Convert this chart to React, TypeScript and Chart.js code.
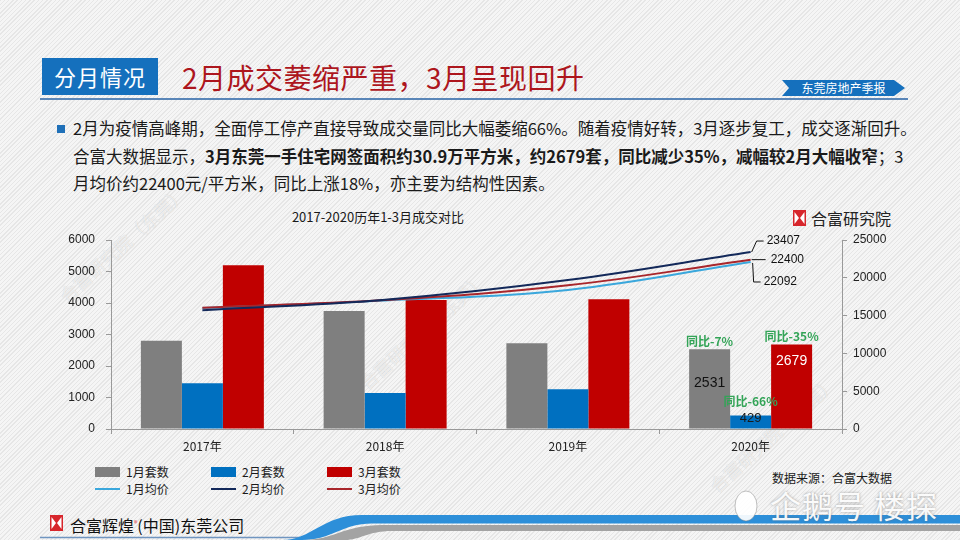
import React, { useEffect, useRef } from "react";
import { Chart, registerables } from "chart.js";

Chart.register(...registerables);

// ---------- data ----------
const categories = ["2017年", "2018年", "2019年", "2020年"];
const janUnits = [2800, 3750, 2720, 2531];
const febUnits = [1450, 1140, 1260, 429];
const marUnits = [5200, 4095, 4120, 2679];
const janPrice = [16000, 17000, 18400, 22092];
const febPrice = [15700, 17100, 19700, 23407];
const marPrice = [16050, 17050, 19000, 22400];
const leftTicks = [0, 1000, 2000, 3000, 4000, 5000, 6000];
const rightTicks = [0, 5000, 10000, 15000, 20000, 25000];
const yoyLabels = ["同比-7%", "同比-66%", "同比-35%"];
const seriesNames = ["1月套数", "2月套数", "3月套数", "1月均价", "2月均价", "3月均价"];

// ---------- styles ----------
const C_GRAY = "#7f7f7f";
const C_BLUE = "#0070c0";
const C_RED = "#c00000";
const C_L1 = "#3aa7dc";
const C_L2 = "#13295a";
const C_L3 = "#a8262b";
const C_GREEN = "#33a457";
const NUMFONT = '"Liberation Sans", "Noto Sans CJK SC", sans-serif';
const CJK = '"Noto Sans CJK SC", "Liberation Sans", sans-serif';

const labelPlugin = {
  id: "customLabels",
  afterDatasetsDraw(chart: any) {
    const ctx = chart.ctx;
    const last = categories.length - 1;
    const bars = [3, 4, 5].map((i) => chart.getDatasetMeta(i).data[last]);
    const vals = [janUnits[last], febUnits[last], marUnits[last]];
    ctx.save();
    ctx.textAlign = "center";
    ctx.textBaseline = "middle";
    const g = bars[0];
    ctx.font = "14px " + NUMFONT;
    ctx.fillStyle = "#111";
    ctx.fillText(String(vals[0]), g.x, (g.y + g.base) / 2 - 6);
    const b = bars[1];
    ctx.font = "13px " + NUMFONT;
    ctx.fillStyle = "#1a1a1a";
    ctx.fillText(String(vals[1]), b.x, (b.y + b.base) / 2 - 4);
    const r = bars[2];
    ctx.font = "14px " + NUMFONT;
    ctx.fillStyle = "#ffffff";
    ctx.fillText(String(vals[2]), r.x, r.y + 17);
    ctx.font = "bold 12px " + CJK;
    ctx.fillStyle = C_GREEN;
    ctx.fillText(yoyLabels[0], g.x, g.y - 8);
    ctx.fillText(yoyLabels[1], b.x, b.y - 14);
    ctx.fillText(yoyLabels[2], r.x, r.y - 8);

    const p2 = chart.getDatasetMeta(0).data[last];
    const p3 = chart.getDatasetMeta(1).data[last];
    const p1 = chart.getDatasetMeta(2).data[last];
    ctx.strokeStyle = "#111";
    ctx.lineWidth = 1;
    ctx.font = "12px " + NUMFONT;
    ctx.fillStyle = "#111";
    ctx.textAlign = "left";
    ctx.beginPath();
    ctx.moveTo(p2.x + 1, p2.y);
    ctx.lineTo(p2.x + 6, p2.y - 11);
    ctx.lineTo(p2.x + 13, p2.y - 11);
    ctx.stroke();
    ctx.fillText(String(febPrice[last]), p2.x + 16, p2.y - 11);
    ctx.beginPath();
    ctx.moveTo(p3.x + 1, p3.y);
    ctx.lineTo(p3.x + 15, p3.y);
    ctx.stroke();
    ctx.fillText(String(marPrice[last]), p3.x + 20, p3.y);
    ctx.beginPath();
    ctx.moveTo(p1.x + 2, p1.y + 1);
    ctx.lineTo(p1.x + 3, p1.y + 20);
    ctx.lineTo(p1.x + 10, p1.y + 20);
    ctx.stroke();
    ctx.fillText(String(janPrice[last]), p1.x + 13, p1.y + 20);
    ctx.restore();
  },
};

function Logo({ x, y, w, h }: { x: number; y: number; w: number; h: number }) {
  return (
    <svg style={{ position: "absolute", left: x, top: y }} width={w} height={h} viewBox="0 0 13 16">
      <rect x="0" y="0" width="13" height="16" fill="#d7262c" />
      <polygon points="1.5,2 6,8 1.5,14" fill="#fff" />
      <polygon points="11.5,2 7,8 11.5,14" fill="#fff" />
    </svg>
  );
}

function abs(left: number, top: number, extra: React.CSSProperties = {}): React.CSSProperties {
  return { position: "absolute", left, top, whiteSpace: "nowrap", ...extra };
}

export default function App() {
  const ref = useRef<HTMLCanvasElement>(null);

  useEffect(() => {
    if (!ref.current) return;
    const lineBase = { type: "line" as const, yAxisID: "yR", borderWidth: 2, pointRadius: 0, tension: 0.4, fill: false };
    const chart = new Chart(ref.current, {
      type: "bar",
      data: {
        labels: categories,
        datasets: [
          { ...lineBase, label: seriesNames[4], data: febPrice, borderColor: C_L2, order: 0 } as any,
          { ...lineBase, label: seriesNames[5], data: marPrice, borderColor: C_L3, order: 1 } as any,
          { ...lineBase, label: seriesNames[3], data: janPrice, borderColor: C_L1, order: 2 } as any,
          { label: seriesNames[0], data: janUnits, backgroundColor: C_GRAY, yAxisID: "y", order: 3, categoryPercentage: 0.673, barPercentage: 1 },
          { label: seriesNames[1], data: febUnits, backgroundColor: C_BLUE, yAxisID: "y", order: 4, categoryPercentage: 0.673, barPercentage: 1 },
          { label: seriesNames[2], data: marUnits, backgroundColor: C_RED, yAxisID: "y", order: 5, categoryPercentage: 0.673, barPercentage: 1 },
        ],
      },
      options: {
        animation: false,
        responsive: false,
        maintainAspectRatio: false,
        layout: { padding: { left: 60, right: 58, top: 240, bottom: 81 } },
        plugins: { legend: { display: false }, tooltip: { enabled: false }, title: { display: false } },
        scales: {
          x: {
            offset: true,
            grid: { offset: true, drawOnChartArea: false, drawTicks: true, tickLength: 5, color: "#999" },
            border: { display: true, color: "#999" },
            ticks: { color: "#222", font: { size: 12, family: CJK }, padding: 5 },
            afterFit: (s: any) => { s.height = 30; },
          },
          y: {
            position: "left",
            min: 0,
            max: 6000,
            grid: { drawOnChartArea: false, drawTicks: true, tickLength: 5, color: "#999" },
            border: { display: true, color: "#999" },
            ticks: { color: "#222", font: { size: 12, family: NUMFONT }, padding: 11, callback: (v: any) => String(v) },
            afterBuildTicks: (s: any) => { s.ticks = leftTicks.map((v) => ({ value: v })); },
            afterFit: (s: any) => { s.width = 51; },
          },
          yR: {
            position: "right",
            min: 0,
            max: 25000,
            grid: { drawOnChartArea: false, drawTicks: true, tickLength: 5, color: "#999" },
            border: { display: true, color: "#999" },
            ticks: { color: "#222", font: { size: 12, family: NUMFONT }, padding: 6, callback: (v: any) => String(v) },
            afterBuildTicks: (s: any) => { s.ticks = rightTicks.map((v) => ({ value: v })); },
            afterFit: (s: any) => { s.width = 60; },
          },
        },
      } as any,
      plugins: [labelPlugin],
    });
    return () => chart.destroy();
  }, []);

  const legendCols = [95, 211, 327];
  const barColors = [C_GRAY, C_BLUE, C_RED];
  const lineColors = [C_L1, C_L2, C_L3];

  const watermark: React.CSSProperties = {
    fontFamily: CJK,
    fontSize: 18,
    color: "rgba(255,255,255,0.6)",
    textShadow: "0 0 1px rgba(150,150,150,0.4)",
    transform: "rotate(-42deg)",
    transformOrigin: "left center",
  };

  return (
    <div
      style={{
        position: "fixed",
        left: 0,
        top: 0,
        width: 960,
        height: 540,
        overflow: "hidden",
        fontFamily: CJK,
        background: "repeating-linear-gradient(135deg, #e6e6e6 0px, #e6e6e6 1px, #f5f5f5 1px, #f5f5f5 3px)",
      }}
    >
      {/* header */}
      <div style={abs(42, 58, { width: 116, height: 37, background: "#1570bd", color: "#fff", fontSize: 22, lineHeight: "37px", textAlign: "center", letterSpacing: 1 })}>分月情况</div>
      <div style={abs(182, 58, { color: "#ad161d", fontSize: 28, lineHeight: "38px", letterSpacing: 0.5 })}>2月成交萎缩严重，3月呈现回升</div>
      <div style={abs(40, 98, { width: 868, height: 1.5, background: "#5a86b8" })} />
      <svg style={{ position: "absolute", left: 780, top: 79 }} width={128} height={18} viewBox="0 0 128 18">
        <polygon points="2,1 114,1 125,9 114,17 2,17 9,9" fill="#1570bd" />
      </svg>
      <div style={abs(782, 79, { width: 123, fontSize: 12, lineHeight: "18px", color: "#fff", textAlign: "center" })}>东莞房地产季报</div>

      {/* paragraph */}
      <div style={abs(57, 125, { width: 8, height: 8, background: "#1f70b8" })} />
      <div style={abs(73, 115, { fontSize: 16.5, lineHeight: "27.5px", color: "#1a1a1a" })}>
        <div>2月为疫情高峰期，全面停工停产直接导致成交量同比大幅萎缩66%。随着疫情好转，3月逐步复工，成交逐渐回升。</div>
        <div>
          合富大数据显示，<b>3月东莞一手住宅网签面积约30.9万平方米，约2679套，同比减少35%，减幅较2月大幅收窄</b>；3
        </div>
        <div>月均价约22400元/平方米，同比上涨18%，亦主要为结构性因素。</div>
      </div>

      {/* chart title & brand */}
      <div style={abs(280, 207, { width: 196, textAlign: "center", fontSize: 13, lineHeight: "20px", color: "#1a1a1a" })}>2017-2020历年1-3月成交对比</div>
      <Logo x={793} y={210} w={13} h={16} />
      <div style={abs(811, 207, { fontSize: 16, lineHeight: "22px", color: "#222" })}>合富研究院</div>

      {/* watermarks */}
      <div style={abs(62, 285, watermark)}>合富研究院（东莞）</div>
      <div style={abs(362, 372, watermark)}>合富研究院（东莞）</div>
      <div style={abs(712, 475, watermark)}>合富研究院（东莞）</div>

      {/* legend */}
      {legendCols.map((x, i) => (
        <React.Fragment key={"b" + i}>
          <div style={abs(x, 467, { width: 25, height: 10, background: barColors[i] })} />
          <div style={abs(x + 31, 463, { fontSize: 12, lineHeight: "18px", color: "#1a1a1a" })}>{seriesNames[i]}</div>
          <div style={abs(x, 488, { width: 25, height: 2, background: lineColors[i] })} />
          <div style={abs(x + 31, 480, { fontSize: 12, lineHeight: "18px", color: "#1a1a1a" })}>{seriesNames[i + 3]}</div>
        </React.Fragment>
      ))}
      <div style={abs(772, 469, { fontSize: 12, lineHeight: "18px", color: "#1a1a1a" })}>数据来源：合富大数据</div>

      {/* footer */}
      <svg style={{ position: "absolute", left: 0, top: 0 }} width={960} height={540} viewBox="0 0 960 540">
        <path d="M40 537.5 L300 537.5" stroke="#6f95c0" strokeWidth="1.5" fill="none" />
        <path d="M282 540 C312 540 322 515 362 515 L960 515 L960 523.5 L372 523.5 C342 523.5 332 540 302 540 Z" fill="#2d8fd9" />
        <path d="M305 540 C332 540 345 525 382 525 L960 525 L960 531 L392 531 C368 531 360 540 345 540 Z" fill="#a3a3a3" />
        <g fill="rgba(255,255,255,0.92)" stroke="rgba(120,120,120,0.45)" strokeWidth="1">
          <ellipse cx="746" cy="506" rx="11" ry="15" />
        </g>
      </svg>
      <Logo x={50} y={515} w={13} h={16} />
      <div style={abs(70, 512, { fontSize: 16, lineHeight: "22px", color: "#111" })}>
        合富辉煌<sup style={{ fontSize: 7, color: "#d7262c" }}>®</sup>(中国)东莞公司
      </div>
      <div style={abs(770, 486, { fontSize: 31, lineHeight: "38px", color: "rgba(255,255,255,0.95)", textShadow: "0 0 3px rgba(100,100,100,0.6)", letterSpacing: 1 })}>企鹅号 楼探</div>

      <canvas ref={ref} width={960} height={540} style={{ position: "absolute", left: 0, top: 0, width: 960, height: 540, pointerEvents: "none" }} />
    </div>
  );
}
